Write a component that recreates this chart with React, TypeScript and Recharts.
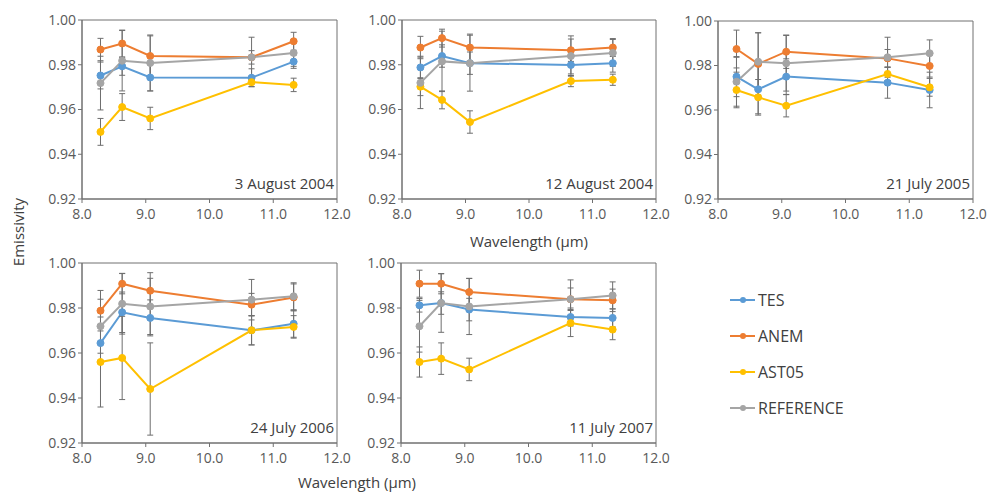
import React from 'react';
import { LineChart, Line, XAxis, YAxis, ErrorBar, ReferenceArea } from 'recharts';

// ASTER TIR band centres (µm)
const wavelengths = [8.29, 8.63, 9.07, 10.66, 11.32];
const dates = ['3 August 2004', '12 August 2004', '21 July 2005', '24 July 2006', '11 July 2007'];
const xTicks = [8, 9, 10, 11, 12];
const yTicks = [0.92, 0.94, 0.96, 0.98, 1.0];

// one row per panel (same order as dates)
const tes = [
  [0.9752, 0.9793, 0.9743, 0.9742, 0.9814],
  [0.9788, 0.9839, 0.9807, 0.9799, 0.9807],
  [0.975, 0.9693, 0.975, 0.9723, 0.969],
  [0.9644, 0.9781, 0.9756, 0.9701, 0.973],
  [0.9812, 0.9822, 0.9793, 0.976, 0.9756],
];
const tesErr = [
  [0.006, 0.004, 0.006, 0.004, 0.003],
  [0.005, 0.005, 0.005, 0.004, 0.004],
  [0.009, 0.011, 0.008, 0.007, 0.008],
  [0.008, 0.009, 0.008, 0.0065, 0.006],
  [0.003, 0.005, 0.005, 0.004, 0.004],
];
const anem = [
  [0.9868, 0.9895, 0.9839, 0.9833, 0.9905],
  [0.9877, 0.9919, 0.9877, 0.9865, 0.9877],
  [0.9874, 0.9807, 0.9862, 0.9832, 0.9798],
  [0.9788, 0.9908, 0.9877, 0.9815, 0.9847],
  [0.9908, 0.9908, 0.9871, 0.9839, 0.9834],
];
const anemErr = [
  [0.005, 0.006, 0.009, 0.003, 0.004],
  [0.005, 0.004, 0.006, 0.005, 0.004],
  [0.0085, 0.014, 0.0075, 0.004, 0.005],
  [0.009, 0.0045, 0.008, 0.005, 0.006],
  [0.006, 0.0045, 0.006, 0.005, 0.005],
];
const ast05 = [
  [0.95, 0.9611, 0.956, 0.9722, 0.971],
  [0.9702, 0.9643, 0.9544, 0.9727, 0.9733],
  [0.969, 0.9657, 0.9619, 0.9762, 0.9702],
  [0.956, 0.9578, 0.944, 0.9701, 0.9716],
  [0.956, 0.9575, 0.9527, 0.9733, 0.9704],
];
const ast05Err = [
  [0.006, 0.006, 0.005, 0.002, 0.003],
  [0.004, 0.004, 0.005, 0.0025, 0.0025],
  [0.008, 0.008, 0.005, 0.003, 0.004],
  [0.02, 0.0185, 0.0205, 0.0065, 0.005],
  [0.0067, 0.007, 0.005, 0.006, 0.0045],
];
const reference = [
  [0.9718, 0.9818, 0.9808, 0.9833, 0.9853],
  [0.9719, 0.9815, 0.9807, 0.9839, 0.9853],
  [0.9727, 0.9817, 0.981, 0.9837, 0.9855],
  [0.9719, 0.9819, 0.9807, 0.9837, 0.9852],
  [0.9719, 0.9822, 0.9807, 0.9839, 0.9856],
];
const referenceErr = [
  [0.012, 0.0135, 0.0125, 0.009, 0.006],
  [0.0115, 0.0135, 0.0125, 0.009, 0.006],
  [0.011, 0.013, 0.0125, 0.009, 0.006],
  [0.012, 0.0135, 0.0125, 0.009, 0.006],
  [0.0115, 0.013, 0.0125, 0.0086, 0.006],
];

const series = [
  { key: 'TES', color: '#5B9BD5', values: tes, errs: tesErr },
  { key: 'ANEM', color: '#ED7D31', values: anem, errs: anemErr },
  { key: 'AST05', color: '#FFC000', values: ast05, errs: ast05Err },
  { key: 'REFERENCE', color: '#A5A5A5', values: reference, errs: referenceErr },
];

// plot-area boxes of the five panels
const boxes = [
  { left: 82, top: 20, w: 255, h: 179 },
  { left: 402, top: 20, w: 254, h: 179 },
  { left: 718, top: 21, w: 255, h: 178 },
  { left: 82, top: 263, w: 255, h: 180 },
  { left: 401, top: 263, w: 255, h: 180 },
];

const FONT = '"Open Sans", sans-serif';
const TEXT = '#404040';
const AXIS = '#707070';
const YW = 60;
const MT = 10;
const MR = 16;
const XH = 30;

const dateLabel = (text: string) => (props: any) => {
  const vb = props.viewBox;
  if (!vb) return null;
  return (
    <text x={vb.x + vb.width - 3} y={vb.y + vb.height - 10} textAnchor="end" fontSize={15} fill={TEXT} fontFamily={FONT}>
      {text}
    </text>
  );
};

const Panel = ({ idx }: { idx: number }) => {
  const b = boxes[idx];
  const data = wavelengths.map((wl, i) => {
    const row: any = { wl };
    series.forEach((s) => {
      row[s.key] = s.values[idx][i];
      row[s.key + 'Err'] = s.errs[idx][i];
    });
    return row;
  });

  return (
    <div style={{ position: 'absolute', left: b.left - YW, top: b.top - MT }}>
      <LineChart width={b.w + YW + MR} height={b.h + MT + XH} data={data} margin={{ top: MT, right: MR, left: 0, bottom: 0 }}>
        <XAxis
          dataKey="wl"
          type="number"
          domain={[8, 12]}
          ticks={xTicks}
          allowDataOverflow
          height={XH}
          tickFormatter={(v: number) => v.toFixed(1)}
          tick={{ fontSize: 14, fill: '#595959', fontFamily: FONT }}
          tickSize={4}
          tickMargin={6}
          stroke={AXIS}
        />
        <YAxis
          type="number"
          domain={[0.92, 1]}
          ticks={yTicks}
          allowDataOverflow
          width={YW}
          tickFormatter={(v: number) => v.toFixed(2)}
          tick={{ fontSize: 14, fill: '#595959', fontFamily: FONT }}
          tickSize={4}
          tickMargin={2}
          stroke={AXIS}
        />
        <ReferenceArea
          x1={8}
          x2={12}
          y1={0.92}
          y2={1}
          fill="none"
          stroke={AXIS}
          strokeWidth={1}
          ifOverflow="visible"
          label={dateLabel(dates[idx])}
        />
        {series.map((s) => (
          <Line
            key={s.key}
            dataKey={s.key}
            stroke={s.color}
            strokeWidth={2}
            dot={{ r: 3.5, fill: s.color, stroke: s.color, strokeWidth: 1 }}
            activeDot={false}
            isAnimationActive={false}
          >
            <ErrorBar dataKey={s.key + 'Err'} direction="y" width={3} stroke="#6e6e6e" strokeWidth={1} />
          </Line>
        ))}
      </LineChart>
    </div>
  );
};

const App = () => {
  return (
    <div style={{ position: 'absolute', left: 0, top: 0, width: 989, height: 493, background: '#fff', fontFamily: FONT, color: TEXT }}>
      {boxes.map((_, i) => (
        <Panel key={i} idx={i} />
      ))}

      <div style={{ position: 'absolute', left: -32, top: 222, width: 100, height: 20, lineHeight: '20px', textAlign: 'center', fontSize: 15, transform: 'rotate(-90deg)' }}>
        Emissivity
      </div>
      <div style={{ position: 'absolute', left: 429, top: 231, width: 200, height: 20, lineHeight: '20px', textAlign: 'center', fontSize: 15 }}>
        Wavelength (µm)
      </div>
      <div style={{ position: 'absolute', left: 257, top: 472, width: 200, height: 20, lineHeight: '20px', textAlign: 'center', fontSize: 15 }}>
        Wavelength (µm)
      </div>

      {series.map((s, i) => (
        <div key={s.key} style={{ position: 'absolute', left: 728, top: 290 + i * 36, height: 20, display: 'flex', alignItems: 'center' }}>
          <svg width={29} height={20}>
            <line x1={2} y1={10} x2={27} y2={10} stroke={s.color} strokeWidth={2} />
            <circle cx={15} cy={10} r={3} fill={s.color} />
          </svg>
          <span style={{ fontSize: 16, lineHeight: '20px', marginLeft: 1 }}>{s.key}</span>
        </div>
      ))}
    </div>
  );
};

export default App;
